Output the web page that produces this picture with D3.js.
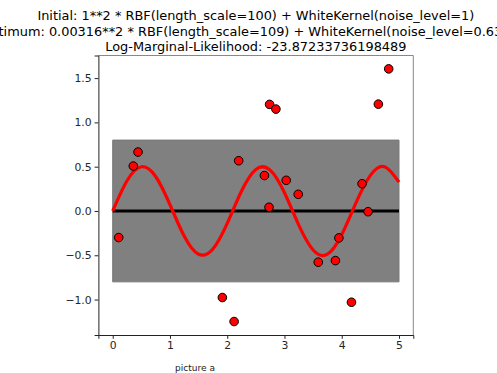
<!DOCTYPE html>
<html>
<head>
<meta charset="utf-8">
<script src="https://cdn.jsdelivr.net/npm/d3@7"></script>
<style>
  body { margin: 0; background: #fff; }
  text { font-family: "DejaVu Sans", sans-serif; }
</style>
</head>
<body>
<div id="chart"></div>
<script>
// observed samples
var obsX = [0.105, 0.36, 0.442, 1.915, 2.12, 2.20, 2.65, 2.74, 2.85, 2.73, 3.03, 3.24, 3.59, 3.89, 3.95, 4.17, 4.355, 4.46, 4.64, 4.82];
var obsY = [-0.30, 0.507, 0.665, -0.977, -1.248, 0.567, 0.40, 1.203, 1.15, 0.042, 0.346, 0.188, -0.578, -0.56, -0.304, -1.03, 0.308, -0.008, 1.206, 1.604];

// curve (red line)
var curveX = [0, 0.25, 0.5, 0.75, 1.0, 1.25, 1.5, 1.75, 2.0, 2.25, 2.5, 2.75, 3.0, 3.25, 3.5, 3.75, 4.0, 4.25, 4.5, 4.75, 5.0];
var curveY = [0, 0.341, 0.499, 0.389, 0.071, -0.286, -0.489, -0.429, -0.140, 0.225, 0.469, 0.461, 0.206, -0.160, -0.440, -0.488, -0.268, 0.094, 0.402, 0.500, 0.325];

// predicted mean and std band
var meanX = [0, 5];
var meanY = [0.0, 0.0];
var stdY = [0.8, 0.8];

var xTicks = [0, 1, 2, 3, 4, 5];
var yTicks = [-1.0, -0.5, 0.0, 0.5, 1.0, 1.5];

var titleLines = [
  "Initial: 1**2 * RBF(length_scale=100) + WhiteKernel(noise_level=1)",
  "Optimum: 0.00316**2 * RBF(length_scale=109) + WhiteKernel(noise_level=0.637)",
  "Log-Marginal-Likelihood: -23.87233736198489"
];

var W = 497, H = 373;
var m = { left: 98.4, right: 413.3, top: 55.5, bottom: 335 };

var svg = d3.select("#chart").append("svg")
  .attr("width", W).attr("height", H);

var x = d3.scaleLinear().domain([-0.25, 5.25]).range([m.left, m.right]);
var y = d3.scaleLinear().domain([-1.40, 1.755]).range([m.bottom, m.top]);

// band
var band = meanX.map(function (d, i) { return { x: d, m: meanY[i], s: stdY[i] }; });
svg.append("path")
  .datum(band)
  .attr("d", d3.area()
    .x(function (d) { return x(d.x); })
    .y0(function (d) { return y(d.m - d.s); })
    .y1(function (d) { return y(d.m + d.s); }))
  .attr("fill", "#808080")
  .attr("stroke", "#777")
  .attr("stroke-width", 1);

// mean line
svg.append("path")
  .datum(band)
  .attr("d", d3.line()
    .x(function (d) { return x(d.x); })
    .y(function (d) { return y(d.m); }))
  .attr("fill", "none")
  .attr("stroke", "#000")
  .attr("stroke-width", 3.2);

// red curve
var curve = curveX.map(function (d, i) { return [d, curveY[i]]; });
svg.append("path")
  .datum(curve)
  .attr("d", d3.line()
    .x(function (d) { return x(d[0]); })
    .y(function (d) { return y(d[1]); })
    .curve(d3.curveNatural))
  .attr("fill", "none")
  .attr("stroke", "#ff0000")
  .attr("stroke-width", 3.2);

// points
svg.selectAll("circle.obs")
  .data(obsX)
  .enter().append("circle")
  .attr("class", "obs")
  .attr("cx", function (d) { return x(d); })
  .attr("cy", function (d, i) { return y(obsY[i]); })
  .attr("r", 4.3)
  .attr("fill", "#ff0000")
  .attr("stroke", "#000")
  .attr("stroke-width", 1);

// spines
svg.append("line").attr("x1", m.left).attr("x2", m.right).attr("y1", m.top).attr("y2", m.top)
  .attr("stroke", "#888").attr("stroke-width", 1);
svg.append("line").attr("x1", m.right).attr("x2", m.right).attr("y1", m.top).attr("y2", m.bottom)
  .attr("stroke", "#888").attr("stroke-width", 1);

// axes
function styleAxis(g) {
  g.select(".domain").attr("stroke", "#222");
  g.selectAll(".tick line").attr("stroke", "#222");
  g.selectAll("text").attr("font-size", "10.8px").attr("fill", "#262626")
    .attr("font-family", "DejaVu Sans");
}

var xAxis = d3.axisBottom(x).tickValues(xTicks).tickSize(3.8).tickPadding(3)
  .tickFormat(d3.format("d"));
svg.append("g")
  .attr("transform", "translate(0," + m.bottom + ")")
  .call(xAxis)
  .call(styleAxis);

var yAxis = d3.axisLeft(y).tickValues(yTicks).tickSize(3.8).tickPadding(3)
  .tickFormat(function (d) { return d3.format(".1f")(d).replace("-", "\u2212"); });
svg.append("g")
  .attr("transform", "translate(" + m.left + ",0)")
  .call(yAxis)
  .call(styleAxis);

// title (second line is wider than the figure and runs off both edges)
var cx = (m.left + m.right) / 2;
var baselines = [20, 35.5, 50.5];
var shifts = [0, -8, 0];
titleLines.forEach(function (t, i) {
  svg.append("text")
    .attr("x", cx + shifts[i]).attr("y", baselines[i])
    .attr("text-anchor", "middle")
    .attr("font-size", "12.9px")
    .attr("fill", "#000")
    .text(t);
});

// label
svg.append("text")
  .attr("x", 195).attr("y", 371)
  .attr("text-anchor", "middle")
  .attr("font-size", "9px")
  .attr("fill", "#222")
  .text("picture a");
</script>
</body>
</html>
